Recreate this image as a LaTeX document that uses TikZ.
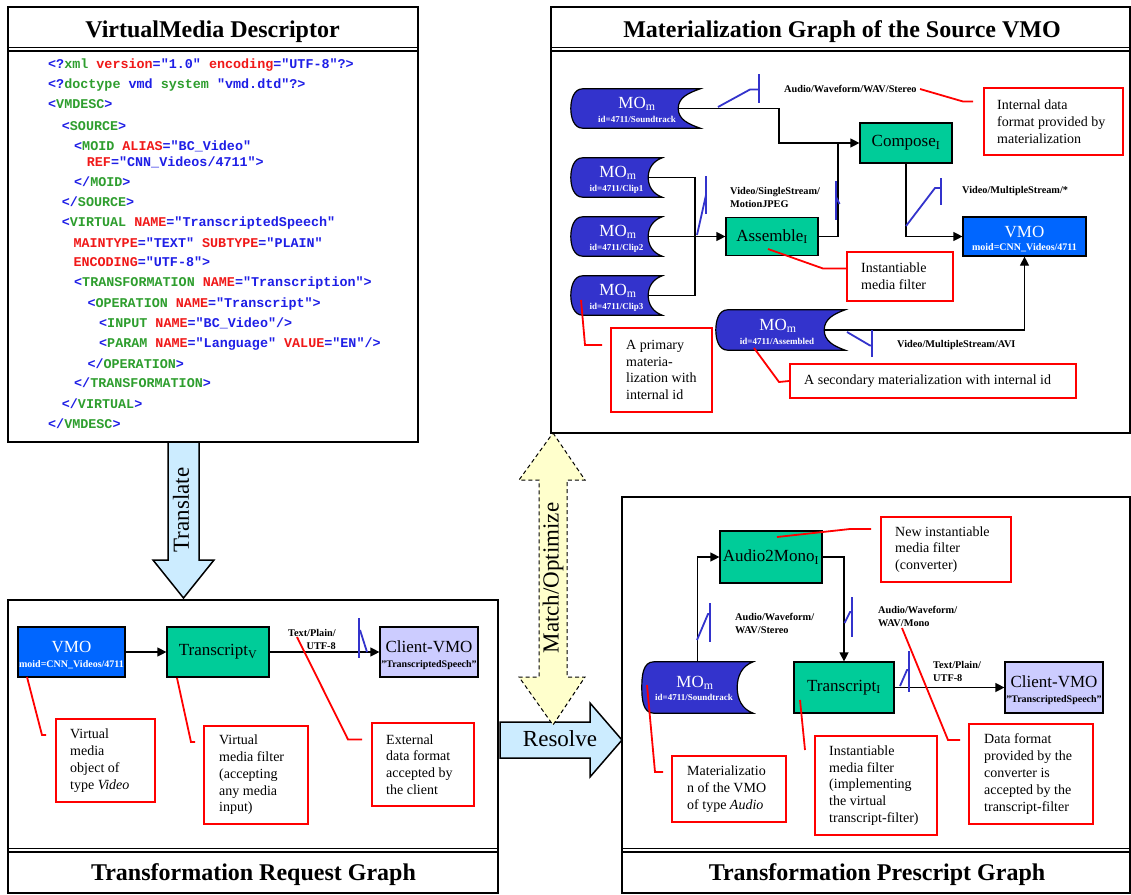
\documentclass[tikz,border=0pt]{standalone}
\usepackage{fontspec}
\setmainfont{Liberation Serif}
\newfontfamily\xmlfont{Liberation Mono}
\usetikzlibrary{arrows.meta}
\definecolor{mob}{HTML}{3333CC}
\definecolor{vmoc}{HTML}{0066FF}
\definecolor{grn}{HTML}{00CC99}
\definecolor{lav}{HTML}{CCCCFF}
\definecolor{xb}{HTML}{1E1EE6}
\definecolor{xg}{HTML}{2E9E2E}
\definecolor{xr}{HTML}{F01818}
\definecolor{mkc}{HTML}{3333CC}
\definecolor{tbl}{HTML}{CCECFF}
\definecolor{myl}{HTML}{FFFFCC}
\newcommand\Xb[1]{\textcolor{xb}{#1}}
\newcommand\Xg[1]{\textcolor{xg}{#1}}
\newcommand\Xr[1]{\textcolor{xr}{#1}}
\newcommand\moshape[3]{\draw[line width=1.2pt,fill=mob] ([xshift=#3]#1.north west) -- (#1.north east) to[out=200,in=90] ([xshift=-#2]#1.east) to[out=-90,in=160] (#1.south east) -- ([xshift=#3]#1.south west) to[out=180,in=-90] (#1.west) to[out=90,in=180] cycle;}
\begin{document}
\begin{tikzpicture}[x=1pt,y=1pt,
 panel/.style={line width=2pt},
 tsep/.style={line width=1.6pt},
 ttl/.style={font=\fontsize{24}{28}\selectfont\bfseries, inner sep=0, anchor=base},
 xml/.style={anchor=base west, inner sep=0, font=\xmlfont\bfseries\fontsize{13.4}{15}\selectfont},
 filt/.style={draw, line width=1.2pt, fill=grn, inner sep=0, font=\fontsize{17}{20}\selectfont},
 vmob/.style={draw, line width=1.2pt, fill=vmoc, inner sep=0},
 cvm/.style={draw, line width=1.2pt, fill=lav, inner sep=0},
 mof/.style={inner sep=0},
 mobig/.style={font=\fontsize{17}{20}\selectfont, anchor=base, inner sep=0},
 mosmall/.style={font=\fontsize{9}{10}\selectfont\bfseries, anchor=base, inner sep=0},
 vsmall/.style={font=\fontsize{10}{11}\selectfont\bfseries, anchor=base, inner sep=0},
 conn/.style={line width=1.2pt},
 arr/.style={line width=1.2pt, -{Triangle[length=9pt,width=9pt]}},
 mk/.style={draw=mkc, line width=1.8pt},
 lbl/.style={font=\fontsize{10.3}{13}\selectfont\bfseries, inner sep=0, align=left, anchor=west},
 ld/.style={draw=red, line width=1.8pt},
 cbox/.style={draw=red, line width=2pt, inner sep=0},
 ctxt/.style={anchor=west, align=left, inner sep=0, font=\fontsize{14}{16.8}\selectfont},
 fat/.style={font=\fontsize{23}{26}\selectfont, inner sep=0}]
\fill[white] (0,0) rectangle (1131,-894);
\useasboundingbox (0,0) rectangle (1131,-894);

% ---------------- Panel 1: VirtualMedia Descriptor
\draw[panel] (8,-7) rectangle (418,-442);
\draw[tsep] (8,-47.5) -- (418,-47.5);
\draw[tsep] (8,-50.8) -- (418,-50.8);
\node[ttl] (t1) at (212.5,-37.5) {VirtualMedia Descriptor};
\node[xml] (x1) at (48,-68) {\Xb{<?}\Xg{xml} \Xr{version}\Xb{="1.0"} \Xr{encoding}\Xb{="UTF-8"?>}};
\node[xml] (x2) at (48,-88) {\Xb{<?}\Xg{doctype} \Xb{vmd} \Xg{system} \Xb{"vmd.dtd"?>}};
\node[xml] (x3) at (48,-108) {\Xb{<}\Xg{VMDESC}\Xb{>}};
\node[xml] (x4) at (61.7,-130) {\Xb{<}\Xg{SOURCE}\Xb{>}};
\node[xml] (x5) at (74,-150) {\Xb{<}\Xg{MOID} \Xr{ALIAS}\Xb{="BC\_Video"}};
\node[xml] (x6) at (86.7,-166.7) {\Xr{REF}\Xb{="CNN\_Videos/4711">}};
\node[xml] (x7) at (74,-186.7) {\Xb{</}\Xg{MOID}\Xb{>}};
\node[xml] (x8) at (61.7,-206.7) {\Xb{</}\Xg{SOURCE}\Xb{>}};
\node[xml] (x9) at (61.7,-226.7) {\Xb{<}\Xg{VIRTUAL} \Xr{NAME}\Xb{="TranscriptedSpeech"}};
\node[xml] (x10) at (73.3,-247) {\Xr{MAINTYPE}\Xb{="TEXT"} \Xr{SUBTYPE}\Xb{="PLAIN"}};
\node[xml] (x11) at (73.3,-266.7) {\Xr{ENCODING}\Xb{="UTF-8">}};
\node[xml] (x12) at (74,-286.7) {\Xb{<}\Xg{TRANSFORMATION} \Xr{NAME}\Xb{="Transcription">}};
\node[xml] (x13) at (87.3,-307) {\Xb{<}\Xg{OPERATION} \Xr{NAME}\Xb{="Transcript">}};
\node[xml] (x14) at (99,-327) {\Xb{<}\Xg{INPUT} \Xr{NAME}\Xb{="BC\_Video"/>}};
\node[xml] (x15) at (99,-347) {\Xb{<}\Xg{PARAM} \Xr{NAME}\Xb{="Language"} \Xr{VALUE}\Xb{="EN"/>}};
\node[xml] (x16) at (87.3,-368) {\Xb{</}\Xg{OPERATION}\Xb{>}};
\node[xml] (x17) at (74,-387) {\Xb{</}\Xg{TRANSFORMATION}\Xb{>}};
\node[xml] (x18) at (61.7,-408) {\Xb{</}\Xg{VIRTUAL}\Xb{>}};
\node[xml] (x19) at (48,-428) {\Xb{</}\Xg{VMDESC}\Xb{>}};

% ---------------- Panel 2: Materialization Graph
\draw[panel] (551,-7) rectangle (1130,-433);
\draw[tsep] (551,-47.5) -- (1130,-47.5);
\draw[tsep] (551,-50.8) -- (1130,-50.8);
\node[ttl] (t2) at (842,-37.5) {Materialization Graph of the Source VMO};

\node[mof, minimum width=129, minimum height=39] (st) at (635.5,-108.5) {};
\moshape{st}{22}{12}
\node[mobig, text=white] (st-a) at (637,-108) {MO\textsubscript{m}};
\node[mosmall, text=white] (st-b) at (637,-122) {id=4711/Soundtrack};

\node[mof, minimum width=91, minimum height=39] (c1) at (616.5,-177.5) {};
\moshape{c1}{14}{12}
\node[mobig, text=white] (c1-a) at (618,-177) {MO\textsubscript{m}};
\node[mosmall, text=white] (c1-b) at (616.5,-191) {id=4711/Clip1};

\node[mof, minimum width=91, minimum height=39] (c2) at (616.5,-236.5) {};
\moshape{c2}{14}{12}
\node[mobig, text=white] (c2-a) at (618,-236) {MO\textsubscript{m}};
\node[mosmall, text=white] (c2-b) at (616.5,-250) {id=4711/Clip2};

\node[mof, minimum width=91, minimum height=39] (c3) at (616.5,-295.5) {};
\moshape{c3}{14}{12}
\node[mobig, text=white] (c3-a) at (618,-295) {MO\textsubscript{m}};
\node[mosmall, text=white] (c3-b) at (616.5,-309) {id=4711/Clip3};

\node[mof, minimum width=129, minimum height=40] (as) at (780.5,-330) {};
\moshape{as}{21}{12}
\node[mobig, text=white] (as-a) at (778,-330) {MO\textsubscript{m}};
\node[mosmall, text=white] (as-b) at (777,-344) {id=4711/Assembled};

\node[filt, minimum width=92, minimum height=40] (cp) at (906,-143) {Compose\textsubscript{I}};
\node[filt, minimum width=92, minimum height=38] (am) at (772,-236.5) {Assemble\textsubscript{I}};
\node[vmob, minimum width=123, minimum height=39] (vm) at (1024.5,-236.5) {};
\node[mobig, text=white] (vm-a) at (1024.5,-237) {VMO};
\node[vsmall, text=white] (vm-b) at (1024.5,-250) {moid=CNN\_Videos/4711};

\draw[arr] ([xshift=-22]st.east) -- (779,-108.5) |- (cp.west);
\draw[conn] ([xshift=-14]c1.east) -| (695,-236.5) |- ([xshift=-14]c3.east);
\draw[arr] ([xshift=-14]c2.east) -- (am.west);
\draw[conn] (am.east) -| (838,-143);
\draw[arr] (cp.south) |- (vm.west);
\draw[arr] ([xshift=-21]as.east) -| (vm.south);

\draw[mk] (718,-107) -- (750,-89.5) -- (759,-89.5);
\draw[mk] (759,-74) -- (759,-103);
\draw[mk] (697,-235) -- (706,-195);
\draw[mk] (706,-176) -- (706,-214);
\draw[mk] (836,-181) -- (836,-220);
\draw[mk] (836,-197) -- (839.5,-204);
\draw[mk] (906,-226) -- (935,-188) -- (941,-188);
\draw[mk] (941,-178) -- (941,-205);
\draw[mk] (847,-332) -- (870,-345.5) -- (872,-345.5);
\draw[mk] (872,-330) -- (872,-357);

\node[lbl] (l1) at (784,-89) {Audio/Waveform/WAV/Stereo};
\node[lbl] (l2) at (730,-197) {Video/SingleStream/\\MotionJPEG};
\node[lbl] (l3) at (962,-191) {Video/MultipleStream/*};
\node[lbl] (l4) at (897,-345) {Video/MultipleStream/AVI};

\node[cbox, minimum width=139, minimum height=67] (co1) at (1053.5,-121.5) {};
\node[ctxt] (co1t) at ([xshift=14]co1.west) {Internal data\\format provided by\\materialization};
\draw[ld] (920,-89) -- (963,-101.5) -- (973,-101.5);
\node[cbox, minimum width=106, minimum height=49] (co2) at (900,-276.5) {};
\node[ctxt] (co2t) at ([xshift=15]co2.west) {Instantiable\\media filter};
\draw[ld] (768,-249) -- (823,-268.5) -- (847,-268.5);
\node[cbox, minimum width=101, minimum height=84] (co3) at (661.5,-370) {};
\node[ctxt] (co3t) at ([xshift=16]co3.west) {A primary\\materia-\\lization with\\internal id};
\draw[ld] (581,-300) -- (585,-345) -- (602,-345);
\node[cbox, minimum width=286, minimum height=34] (co4) at (933,-381) {};
\node[ctxt] (co4t) at ([xshift=15]co4.west) {A secondary materialization with internal id};
\draw[ld] (754,-348) -- (779,-382) -- (co4.west);

% ---------------- big arrows
\draw[line width=1.5pt, fill=tbl] (168,-442) -- (199,-442) -- (199,-560) -- (214,-560) -- (183.5,-598) -- (153,-560) -- (168,-560) -- cycle;
\node[fat, rotate=90] (tr) at (181,-510) {Translate};
\draw[line width=1.5pt, fill=tbl] (500,-722) -- (590,-722) -- (590,-703) -- (622,-740) -- (590,-777) -- (590,-758) -- (500,-758) -- cycle;
\node[fat] (rs) at (560,-739) {Resolve};
\draw[line width=1pt, dash pattern=on 4pt off 3pt, fill=myl] (553,-433) -- (585,-480) -- (567,-480) -- (567,-677) -- (585,-677) -- (553,-725) -- (519,-677) -- (539,-677) -- (539,-480) -- (519,-480) -- cycle;
\node[fat, rotate=90] (mt) at (553,-578) {Match/Optimize};

% ---------------- Panel 3: Transformation Request Graph
\draw[panel] (8,-600) rectangle (498,-892.5);
\draw[tsep] (8,-848.5) -- (498,-848.5);
\draw[tsep] (8,-851.8) -- (498,-851.8);
\node[ttl] (t3) at (253.5,-880) {Transformation Request Graph};

\node[vmob, minimum width=107, minimum height=50] (rv) at (71.5,-652) {};
\node[mobig, text=white] (rv-a) at (71.5,-652) {VMO};
\node[vsmall, text=white] (rv-b) at (71.5,-667) {moid=CNN\_Videos/4711};
\node[filt, minimum width=102, minimum height=50] (rt) at (218,-652) {Transcript\textsubscript{V}};
\node[cvm, minimum width=98, minimum height=50] (rc) at (429,-652) {};
\node[mobig] (rc-a) at (429,-652) {Client-VMO};
\node[vsmall] (rc-b) at (429,-667) {"TranscriptedSpeech"};
\draw[arr] (rv.east) -- (rt.west);
\draw[arr] (rt.east) -- (rc.west);
\draw[mk] (359,-618) -- (359,-658);
\draw[mk] (360,-630) -- (367,-652);
\node[lbl, anchor=east, align=right] (rl) at (336,-639) {Text/Plain/\\UTF-8};

\node[cbox, minimum width=99, minimum height=83] (cr1) at (105.5,-760.5) {};
\node[ctxt] (cr1t) at ([xshift=15]cr1.west) {Virtual\\media\\object of\\type \textit{Video}};
\draw[ld] (27,-677) -- (42,-735) -- (46,-735);
\node[cbox, minimum width=104, minimum height=98] (cr2) at (256,-775) {};
\node[ctxt] (cr2t) at ([xshift=16]cr2.west) {Virtual\\media filter\\(accepting\\any media\\input)};
\draw[ld] (177,-678) -- (191,-742) -- (195,-742);
\node[cbox, minimum width=102, minimum height=83] (cr3) at (423,-764.5) {};
\node[ctxt] (cr3t) at ([xshift=15]cr3.west) {External\\data format\\accepted by\\the client};
\draw[ld] (297,-637) -- (348,-739.5) -- (362,-739.5);

% ---------------- Panel 4: Transformation Prescript Graph
\draw[panel] (622,-497) rectangle (1130,-892.5);
\draw[tsep] (622,-848.5) -- (1130,-848.5);
\draw[tsep] (622,-851.8) -- (1130,-851.8);
\node[ttl] (t4) at (877,-880) {Transformation Prescript Graph};

\node[filt, minimum width=102, minimum height=52] (pa) at (771,-557) {Audio2Mono\textsubscript{I}};
\node[filt, minimum width=100, minimum height=51] (pt) at (844,-687.5) {Transcript\textsubscript{I}};
\node[cvm, minimum width=98, minimum height=51] (pc) at (1054,-687.5) {};
\node[mobig] (pc-a) at (1054,-687) {Client-VMO};
\node[vsmall] (pc-b) at (1054,-702) {"TranscriptedSpeech"};
\node[mof, minimum width=111, minimum height=51] (pm) at (697.5,-687.5) {};
\moshape{pm}{16}{12}
\node[mobig, text=white] (pm-a) at (695,-687) {MO\textsubscript{m}};
\node[mosmall, text=white] (pm-b) at (694,-700) {id=4711/Soundtrack};

\draw[arr] (pm.north) |- (pa.west);
\draw[arr] (pa.east) -| (pt.north);
\draw[arr] (pt.east) -- (pc.west);

\draw[mk] (697,-640) -- (708,-614) -- (710,-614);
\draw[mk] (710,-603) -- (710,-642);
\draw[mk] (844.5,-623) -- (850,-612) -- (852,-612);
\draw[mk] (852,-597) -- (852,-637);
\draw[mk] (900,-686) -- (907,-670) -- (909,-670);
\draw[mk] (909,-651) -- (909,-692);

\node[lbl] (pl1) at (735,-623.5) {Audio/Waveform/\\WAV/Stereo};
\node[lbl] (pl2) at (878,-616.5) {Audio/Waveform/\\WAV/Mono};
\node[lbl] (pl3) at (933,-671) {Text/Plain/\\UTF-8};

\node[cbox, minimum width=130, minimum height=65] (pc1) at (946,-549.5) {};
\node[ctxt] (pc1t) at ([xshift=15]pc1.west) {New instantiable\\media filter\\(converter)};
\draw[ld] (777,-537) -- (850,-529) -- (871,-529);
\node[cbox, minimum width=122, minimum height=99] (pc2) at (876,-785.5) {};
\node[ctxt] (pc2t) at ([xshift=15]pc2.west) {Instantiable\\media filter\\(implementing\\the virtual\\transcript-filter)};
\draw[ld] (800,-700) -- (805,-750);
\node[cbox, minimum width=114, minimum height=66] (pc3) at (729,-789) {};
\node[ctxt] (pc3t) at ([xshift=16]pc3.west) {Materializatio\\n of the VMO\\of type \textit{Audio}};
\draw[ld] (647,-685) -- (655,-772) -- (663,-772);
\node[cbox, minimum width=124, minimum height=100] (pc4) at (1031,-774) {};
\node[ctxt] (pc4t) at ([xshift=16]pc4.west) {Data format\\provided by the\\converter is\\accepted by the\\transcript-filter};
\draw[ld] (902,-628) -- (948,-740) -- (960,-740);
\end{tikzpicture}
\end{document}
